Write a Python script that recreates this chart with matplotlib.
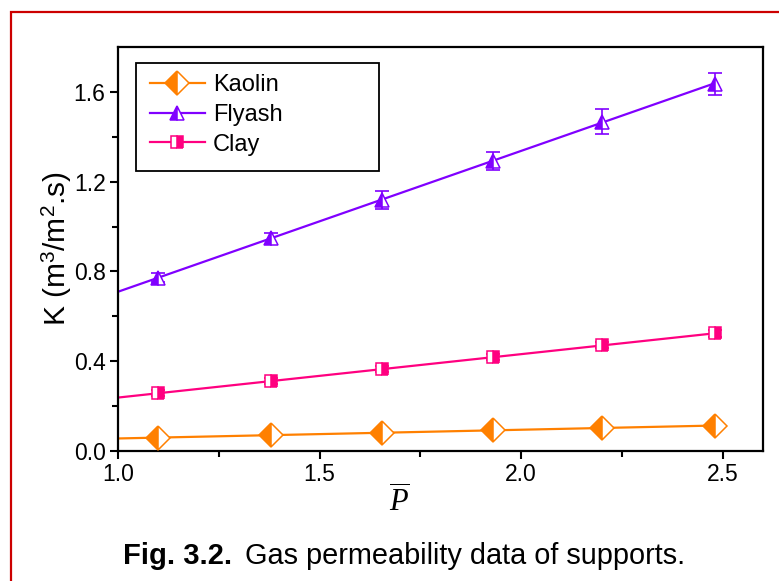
import numpy as np
import matplotlib
matplotlib.use("Agg")
import matplotlib.pyplot as plt
from matplotlib.patches import Rectangle
from matplotlib.lines import Line2D

plt.rcParams['font.family'] = ['Liberation Sans', 'DejaVu Sans']
plt.rcParams['mathtext.fontset'] = 'custom'
plt.rcParams['mathtext.rm'] = 'Liberation Sans'
plt.rcParams['mathtext.it'] = 'Liberation Serif:italic'

# mean pressure (bar) and permeability K (m3/m2.s)
p_mean = [1.10, 1.38, 1.655, 1.93, 2.20, 2.48]
kaolin = [0.059, 0.071, 0.081, 0.092, 0.104, 0.112]
flyash = [0.773, 0.947, 1.120, 1.293, 1.467, 1.636]
clay = [0.258, 0.311, 0.364, 0.418, 0.471, 0.524]
kaolin_err = [0.008, 0.008, 0.008, 0.008, 0.008, 0.008]
flyash_err = [0.02, 0.025, 0.04, 0.04, 0.055, 0.05]
clay_err = [0.014, 0.014, 0.014, 0.014, 0.014, 0.014]
labels = ['Kaolin', 'Flyash', 'Clay']

series = [
    (kaolin, kaolin_err, '#FF8000', 'D', 'left', 12),
    (flyash, flyash_err, '#8000FF', '^', 'left', 10.5),
    (clay, clay_err, '#FF0080', 's', 'right', 8.5),
]

fig = plt.figure(figsize=(7.79, 5.81), dpi=100)
ax = fig.add_axes([0.1515, 0.2238, 0.8280, 0.6952])

x = np.array(p_mean)
handles = []
for (y, err, col, mk, fs, ms), lab in zip(series, labels):
    y = np.array(y)
    slope, icpt = np.polyfit(x, y, 1)
    xf = np.array([1.0, x[-1]])
    ax.plot(xf, slope * xf + icpt, color=col, lw=1.6, zorder=2)
    ax.errorbar(x, y, yerr=err, fmt='none', ecolor=col, elinewidth=1.2,
                capsize=5, capthick=1.2, zorder=3)
    ax.plot(x, y, ls='none', marker=mk, ms=ms, fillstyle=fs,
            markerfacecolor=col, markerfacecoloralt='white',
            markeredgecolor=col, markeredgewidth=1.1, zorder=4)
    handles.append(Line2D([], [], color=col, lw=1.6, marker=mk, ms=ms, fillstyle=fs,
                          markerfacecolor=col, markerfacecoloralt='white',
                          markeredgecolor=col, markeredgewidth=1.1))

ax.set_xlim(1.0, 2.6)
ax.set_ylim(0, 1.8)
ax.set_xticks([1.0, 1.5, 2.0, 2.5])
ax.set_xticks([1.25, 1.75, 2.25], minor=True)
ax.set_yticks([0.0, 0.4, 0.8, 1.2, 1.6])
ax.set_yticks([0.2, 0.6, 1.0, 1.4], minor=True)
ax.xaxis.set_major_formatter(matplotlib.ticker.FormatStrFormatter('%.1f'))
ax.yaxis.set_major_formatter(matplotlib.ticker.FormatStrFormatter('%.1f'))
ax.tick_params(which='major', direction='out', length=6, width=1.5, labelsize=16.5, pad=3)
ax.tick_params(which='minor', direction='out', length=4, width=1.5)
for sp in ax.spines.values():
    sp.set_linewidth(1.6)

ax.set_ylabel('K (m$^3$/m$^2$.s)', fontsize=21.5, labelpad=0)
ax.set_xlabel(r'$\overline{P}$', fontsize=22)
ax.xaxis.set_label_coords(0.437, -0.085)

leg = ax.legend(handles, labels, loc='upper left', bbox_to_anchor=(0.05, 0.933),
                frameon=False, fontsize=17, handlelength=2.3, handletextpad=0.35,
                labelspacing=0.33, borderaxespad=0, borderpad=0)
ax.add_patch(Rectangle((0.028, 0.692), 0.376, 0.268, transform=ax.transAxes,
                       fill=False, edgecolor='black', lw=1.3, zorder=5))

fig.text(123 / 779, 0.029, 'Fig. 3.2.', fontsize=21, fontweight='bold', va='baseline')
fig.text(245 / 779, 0.029, 'Gas permeability data of supports.', fontsize=20.8, va='baseline')

fig.add_artist(Rectangle((11 / 779, -0.05), 1.2, 1 - 12 / 581 + 0.05,
                         transform=fig.transFigure, fill=False,
                         edgecolor='#CC0000', lw=1.6))

fig.savefig('out.png', dpi=100)
